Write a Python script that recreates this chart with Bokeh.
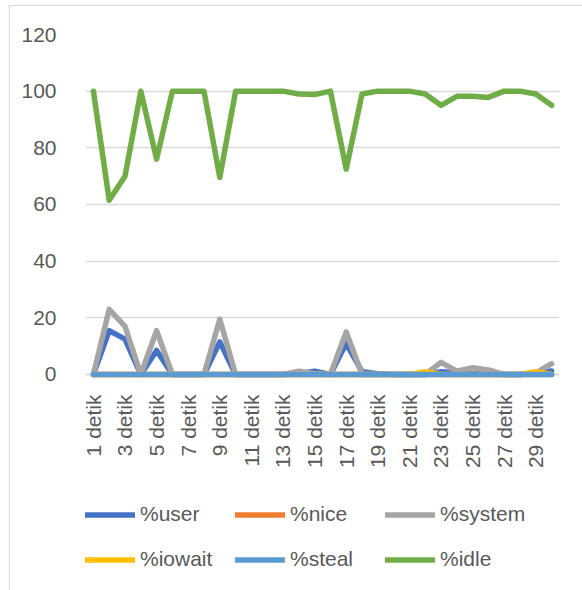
import math
from bokeh.plotting import figure
from bokeh.models import Range1d, FixedTicker, Legend, LegendItem, InlineStyleSheet, LinearAxis
from bokeh.embed import file_html
from bokeh.resources import INLINE

categories = [f"{i} detik" for i in range(1, 31)]
positions = list(range(1, 31))

user = [0, 15.5, 12.5, 0, 8.5, 0, 0, 0, 11.5, 0, 0, 0, 0, 0.3, 1.2, 0, 11, 1, 0.3, 0,
        0, 0, 1, 0.5, 0.3, 0.3, 0, 0, 0.5, 1.2]
nice = [0] * 30
system = [0, 23, 17, 0, 15.5, 0, 0, 0, 19.5, 0, 0, 0, 0, 1.2, 0.3, 0, 15, 0, 0, 0,
          0, 0, 4.3, 1.2, 2.4, 1.6, 0, 0, 0.6, 3.8]
iowait = [0, 0, 0, 0, 0, 0, 0, 0, 0, 0, 0, 0, 0, 0, 0, 0, 0, 0, 0, 0,
          0, 1, 0, 0, 0, 0, 0, 0, 1, 0]
steal = [0] * 30
idle = [100, 61.5, 70, 100, 76, 100, 100, 100, 69.5, 100, 100, 100, 100, 99, 98.8, 100, 72.5, 99, 100, 100,
        100, 99, 95, 98.2, 98.2, 97.8, 100, 100, 99, 95]

y_ticks = [0, 20, 40, 60, 80, 100, 120]
x_tick_positions = positions[::2]
x_tick_labels = categories[::2]

series = [
    ("%user", user, "#4472C4"),
    ("%nice", nice, "#ED7D31"),
    ("%system", system, "#A5A5A5"),
    ("%iowait", iowait, "#FFC000"),
    ("%steal", steal, "#5B9BD5"),
    ("%idle", idle, "#70AD47"),
]

FONT = "Liberation Sans"
TXT = "#595959"

border_css = InlineStyleSheet(css="""
:host { position: relative; }
:host::after {
  content: ""; position: absolute; left: 9px; top: 5px;
  width: calc(100% - 9px); height: calc(100% - 5px); box-sizing: border-box;
  border-left: 1.5px solid #d9d9d9; border-top: 1.5px solid #d9d9d9;
  pointer-events: none;
}
""")

# frame spans from value 120 (y=34) down to the bottom of the page; 0 sits at y=374
p = figure(width=582, height=590, output_backend="svg", toolbar_location=None,
           x_range=Range1d(0.5, 30.5), y_range=Range1d(-76.24, 120),
           x_axis_location=None,
           min_border_left=85, min_border_right=23, min_border_top=34, min_border_bottom=0,
           stylesheets=[border_css])
p.outline_line_color = None
p.background_fill_color = "white"
p.border_fill_color = "white"

p.yaxis.ticker = FixedTicker(ticks=y_ticks)
p.ygrid.ticker = FixedTicker(ticks=y_ticks)
p.ygrid.grid_line_color = "#d9d9d9"
p.ygrid.grid_line_width = 1.5
p.xgrid.grid_line_color = None
p.yaxis.axis_line_color = None
p.yaxis.major_tick_line_color = None
p.yaxis.minor_tick_line_color = None
p.yaxis.major_label_standoff = 23
p.yaxis.major_label_text_font = FONT
p.yaxis.major_label_text_font_size = "21px"
p.yaxis.major_label_text_color = TXT

xaxis = LinearAxis(fixed_location=0, ticker=FixedTicker(ticks=x_tick_positions),
                   major_label_overrides={pos: lab for pos, lab in zip(x_tick_positions, x_tick_labels)},
                   major_label_orientation=math.pi / 2,
                   axis_line_color="#d9d9d9", axis_line_width=1.5,
                   major_tick_line_color=None, minor_tick_line_color=None,
                   major_label_standoff=14,
                   major_label_text_font=FONT, major_label_text_font_size="21px",
                   major_label_text_color=TXT, level="underlay")
p.add_layout(xaxis, "below")

items = []
for name, vals, color in series:
    r = p.line(positions, vals, line_width=5.5, color=color, line_join="round", line_cap="round")
    items.append(LegendItem(label=name, renderers=[r]))

legend = Legend(items=items, location=(0, 8.5), orientation="horizontal", ncols=3,
                glyph_width=50, glyph_height=45, label_height=45, label_width=95,
                label_standoff=5, spacing=0, padding=0, margin=0,
                border_line_color=None, background_fill_alpha=0,
                label_text_font=FONT, label_text_font_size="21px", label_text_color=TXT)
p.add_layout(legend, "center")

open("out.html", "w").write(file_html(p, INLINE))
